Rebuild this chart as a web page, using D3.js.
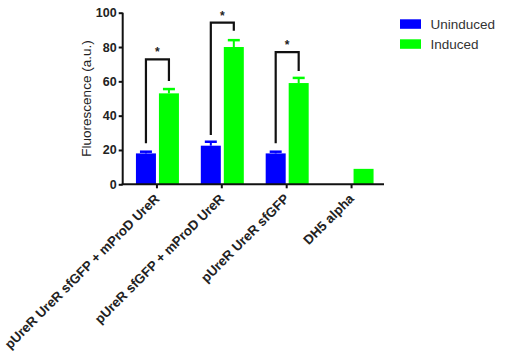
<!DOCTYPE html>
<html><head><meta charset="utf-8">
<script src="https://cdn.jsdelivr.net/npm/d3@7"></script>
<style>body{margin:0;background:#fff}svg{display:block}</style>
</head><body><svg id="c" width="525" height="355"></svg>
<script>
const categories = ["pUreR UreR sfGFP + mProD UreR","pUreR sfGFP + mProD UreR","pUreR UreR sfGFP","DH5 alpha"];
const seriesNames = ["Uninduced","Induced"];
const uninduced = [18, 22.5, 18, null];
const uninducedErr = [1, 2.3, 1, null];
const induced = [53, 80, 59, 9];
const inducedErr = [2.5, 4, 3, 0];
const bracketTop = [72.8, 94.2, 77];
const bracketLeftEnd = [23.9, 28.7, 23.9];
const bracketRightEnd = [60.2, 89.5, 66];
const yTicks = [0,20,40,60,80,100];
const colors = ["#0000ff","#00ff00"];

const svg = d3.select("#c");
const x0 = 122.7, x1 = 384, yb = 184.3, yt = 12.7;
const y = d3.scaleLinear().domain([0,100]).range([yb, yt]);
const x = d3.scaleBand().domain(categories).range([124.5, x1]);
const xi = d3.scaleBand().domain(seriesNames).range([-21, 22]).paddingInner(0.13);
const font = "Liberation Sans, Arial, sans-serif";

const series = [{name:"Uninduced", vals:uninduced, errs:uninducedErr},
                {name:"Induced", vals:induced, errs:inducedErr}];
const cx = c => x(c) + x.bandwidth()/2;

// bars
series.forEach((s, si) => {
  const g = svg.append("g");
  categories.forEach((c, i) => {
    const v = s.vals[i];
    if (v == null) return;
    const bx = cx(c) + xi(s.name), bw = xi.bandwidth();
    g.append("rect").attr("x", bx).attr("y", y(v)).attr("width", bw)
      .attr("height", y(0) - y(v)).attr("fill", colors[si]);
    const e = s.errs[i];
    if (e > 0) {
      const mx = bx + bw/2;
      g.append("line").attr("x1", mx).attr("x2", mx).attr("y1", y(v)).attr("y2", y(v+e))
        .attr("stroke", colors[si]).attr("stroke-width", 2);
      g.append("line").attr("x1", mx-6).attr("x2", mx+6).attr("y1", y(v+e)).attr("y2", y(v+e))
        .attr("stroke", colors[si]).attr("stroke-width", 2.5);
    }
  });
});

// brackets
bracketTop.forEach((t, i) => {
  const c = categories[i];
  const lx = cx(c) + xi("Uninduced") + xi.bandwidth()/2;
  const rx = cx(c) + xi("Induced") + xi.bandwidth()/2;
  svg.append("path")
    .attr("d", `M${lx},${y(bracketLeftEnd[i])}V${y(t)}H${rx}V${y(bracketRightEnd[i])}`)
    .attr("fill","none").attr("stroke","#111").attr("stroke-width",2.2);
  svg.append("text").attr("x",(lx+rx)/2).attr("y",y(t)-3).attr("text-anchor","middle")
    .attr("font-family",font).attr("font-size",12).attr("font-weight","bold").attr("fill","#222").text("*");
});

// y axis
const ya = svg.append("g").attr("transform",`translate(${x0},0)`)
  .call(d3.axisLeft(y).tickValues(yTicks).tickSize(4).tickPadding(2));
ya.select(".domain").attr("stroke","#111").attr("stroke-width",2).attr("d",`M0,${yt}V${yb}`);
ya.selectAll(".tick line").attr("stroke","#111").attr("stroke-width",2);
ya.selectAll(".tick text").attr("font-family",font).attr("font-size",12.5).attr("font-weight","bold").attr("fill","#222");

// x axis
const xa = svg.append("g").attr("transform",`translate(0,${yb})`)
  .call(d3.axisBottom(x).tickSize(4).tickFormat(""));
xa.select(".domain").remove();
xa.selectAll(".tick line").attr("stroke","#111").attr("stroke-width",2);
svg.append("line").attr("x1",x0-1).attr("x2",x1).attr("y1",yb).attr("y2",yb).attr("stroke","#111").attr("stroke-width",2);
categories.forEach(c => {
  svg.append("text").attr("transform",`translate(${cx(c)},${yb+12}) rotate(-45)`)
    .attr("text-anchor","end").attr("dy","0.35em")
    .attr("font-family",font).attr("font-size",13.3).attr("font-weight","bold").attr("fill","#222").text(c);
});

// y label
svg.append("text").attr("transform",`translate(91,${(yt+yb)/2}) rotate(-90)`)
  .attr("text-anchor","middle").attr("font-family",font).attr("font-size",13.5).attr("fill","#222")
  .text("Fluorescence (a.u.)");

// legend
seriesNames.forEach((n, i) => {
  const ly = 19.3 + i*20;
  svg.append("rect").attr("x",400).attr("y",ly).attr("width",21).attr("height",9.5).attr("fill",colors[i]);
  svg.append("text").attr("x",430.5).attr("y",ly+4.8).attr("dy","0.35em")
    .attr("font-family",font).attr("font-size",13.5).attr("fill","#333").text(n);
});
</script></body></html>
